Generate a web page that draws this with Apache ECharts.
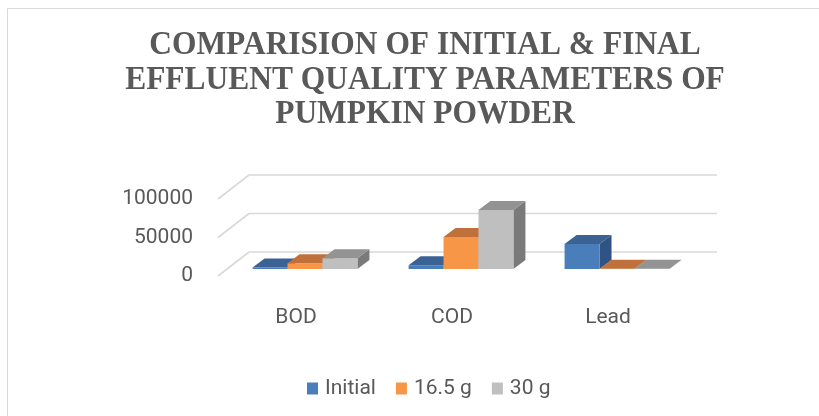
<!DOCTYPE html>
<html>
<head>
<meta charset="utf-8">
<script src="https://cdn.jsdelivr.net/npm/echarts@6/dist/echarts.min.js"></script>
<style>html,body{margin:0;padding:0;background:#fff;}#c{width:819px;height:416px;}</style>
</head>
<body>
<div id="c"></div>
<script>
// ---- data ----
var categories = ['BOD', 'COD', 'Lead'];
var seriesNames = ['Initial', '16.5 g', '30 g'];
var initialValues = [2000, 5000, 32500];
var g165Values = [7500, 41500, 300];
var g30Values = [14000, 76500, 300];
var yTicks = [0, 50000, 100000];
var titleLines = ['COMPARISION OF INITIAL & FINAL', 'EFFLUENT QUALITY PARAMETERS OF', 'PUMPKIN POWDER'];

// ---- style ----
var faceColors = [
  {front: '#4a7ebb', top: '#3a6394', side: '#2f5383'},
  {front: '#f79646', top: '#c0703a', side: '#a65f2e'},
  {front: '#bfbfbf', top: '#939393', side: '#7a7a7a'}
];
var BAR_DX = 12, BAR_DY = -9;      // bar depth
var WALL_DX = 22, WALL_DY = -17;   // back wall offset from bar plane
var FLOOR_DX = -9, FLOOR_DY = 7;   // front floor offset from bar plane
var textColor = '#595959';

var chart = echarts.init(document.getElementById('c'));

function barSeries(k, values) {
  return {
    type: 'custom',
    name: seriesNames[k],
    xAxisIndex: 0, yAxisIndex: 0,
    itemStyle: {color: faceColors[k].front},
    z: 3 + k,
    encode: {x: 0, y: 1},
    data: values.map(function (v, i) { return [i, v]; }),
    renderItem: function (params, api) {
      var ci = api.value(0), v = api.value(1);
      var base = api.coord([ci, 0]);
      var topP = api.coord([ci, v]);
      var band = api.size([1, 0])[0];
      var bw = band * 0.224;
      var x0 = base[0] - 1.5 * bw + k * bw;
      var by = base[1], ty = topP[1];
      var c = faceColors[k];
      return {
        type: 'group',
        children: [
          {type: 'polygon', shape: {points: [[x0 + bw, ty], [x0 + bw, by], [x0 + bw + BAR_DX, by + BAR_DY], [x0 + bw + BAR_DX, ty + BAR_DY]]},
            style: {fill: c.side}},
          {type: 'rect', shape: {x: x0, y: ty, width: bw, height: by - ty}, style: {fill: c.front}},
          {type: 'polygon', shape: {points: [[x0, ty], [x0 + bw, ty], [x0 + bw + BAR_DX, ty + BAR_DY], [x0 + BAR_DX, ty + BAR_DY]]},
            style: {fill: c.top}}
        ]
      };
    }
  };
}

var gridLineSeries = {
  type: 'custom',
  xAxisIndex: 0, yAxisIndex: 0,
  silent: true,
  z: 1,
  encode: {x: 0, y: 1},
  data: yTicks.map(function (t) { return [0, t]; }),
  renderItem: function (params, api) {
    var y = api.coord([0, api.value(1)])[1];
    var cs = params.coordSys;
    var style = {stroke: '#d9d9d9', lineWidth: 1.6, fill: null};
    return {
      type: 'group',
      children: [
        {type: 'line', shape: {x1: cs.x + WALL_DX, y1: y + WALL_DY, x2: cs.x + cs.width + WALL_DX, y2: y + WALL_DY}, style: style},
        {type: 'line', shape: {x1: cs.x + FLOOR_DX, y1: y + FLOOR_DY, x2: cs.x + WALL_DX, y2: y + WALL_DY}, style: style}
      ]
    };
  }
};

var option = {
  animation: false,
  backgroundColor: '#ffffff',
  graphic: [
    {type: 'rect', shape: {x: 7.5, y: 8.5, width: 1000, height: 600}, style: {fill: 'none', stroke: '#d9d9d9', lineWidth: 1}, z: 0},
    {type: 'text', x: 425, y: 28, scaleX: 0.925, z: 10,
      style: {text: titleLines.join('\n'), font: 'bold 34px "Liberation Serif"', fill: textColor,
        align: 'center', textAlign: 'center', lineHeight: 34.5}}
  ],
  grid: [
    {left: 227, right: 124, top: 192, bottom: 147},
    {left: 218, right: 133, top: 199, bottom: 140}
  ],
  xAxis: [
    {gridIndex: 0, type: 'category', data: categories, show: false},
    {gridIndex: 1, type: 'category', data: categories,
      axisLine: {show: false}, axisTick: {show: false},
      axisLabel: {color: textColor, fontFamily: 'Roboto', fontSize: 21, margin: 31}}
  ],
  yAxis: [
    {gridIndex: 0, type: 'value', min: 0, max: 100000, interval: 50000, show: false},
    {gridIndex: 1, type: 'value', min: 0, max: 100000, interval: 50000,
      axisLine: {show: false}, axisTick: {show: false}, splitLine: {show: false},
      axisLabel: {color: textColor, fontFamily: 'Roboto', fontSize: 21, margin: 25,
        formatter: function (v) { return String(v); }}}
  ],
  legend: {
    left: 302, top: 373,
    itemWidth: 11, itemHeight: 12, itemGap: 20,
    icon: 'rect',
    data: seriesNames,
    textStyle: {color: textColor, fontFamily: 'Roboto', fontSize: 21, padding: [0, 0, 0, 2]}
  },
  series: [
    gridLineSeries,
    barSeries(0, initialValues),
    barSeries(1, g165Values),
    barSeries(2, g30Values)
  ]
};
chart.setOption(option);
</script>
</body>
</html>
